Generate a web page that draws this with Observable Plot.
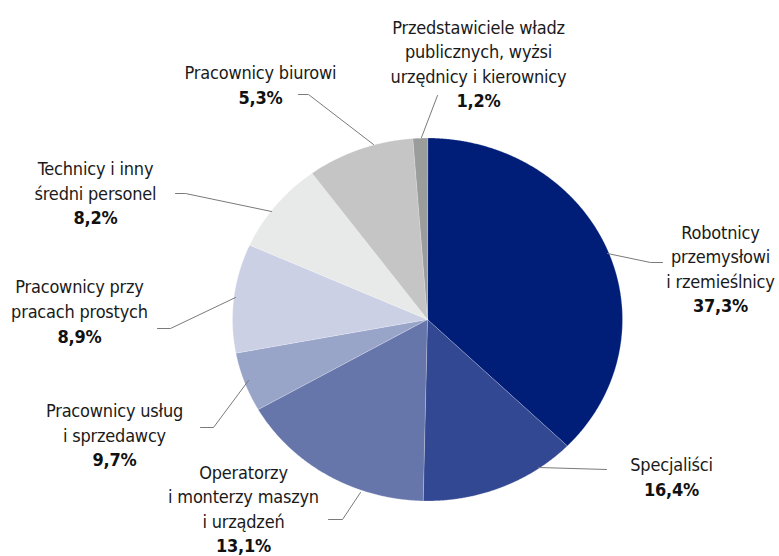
<!DOCTYPE html>
<html><head><meta charset="utf-8">
<script src="https://cdn.jsdelivr.net/npm/d3@7"></script>
<script src="https://cdn.jsdelivr.net/npm/@observablehq/plot@0.6"></script>
<style>html,body{margin:0;padding:0;background:#fff}</style>
</head><body><div id="chart"></div>
<script>
// Labels as printed, in clockwise order from 12 o'clock
const categories = [
  "Robotnicy\nprzemysłowi\ni rzemieślnicy",
  "Specjaliści",
  "Operatorzy\ni monterzy maszyn\ni urządzeń",
  "Pracownicy usług\ni sprzedawcy",
  "Pracownicy przy\npracach prostych",
  "Technicy i inny\nśredni personel",
  "Pracownicy biurowi",
  "Przedstawiciele władz\npublicznych, wyżsi\nurzędnicy i kierownicy"
];
// Percentages printed next to each label
const labelShares = [37.3, 16.4, 13.1, 9.7, 8.9, 8.2, 5.3, 1.2];
// Wedge sizes as drawn in the picture (same order, clockwise)
const wedgeShares = [37.3, 13.1, 16.4, 5.3, 9.7, 8.2, 8.9, 1.2];
const wedgeColors = ["#001e78", "#334892", "#6676ab", "#99a4c9", "#cbd0e5", "#e8e9e9", "#c5c5c5", "#9b9d9d"];

// ---- layout (pixels) ----
const W = 779, H = 556;
const CX = 427, CY = 319, RX = 195, RY = 181.5;
const FS = 18, LH = 1.36;
const ux = px => (px - CX) / RX;
const uy = py => (CY - py) / RY;
// text centre x, baseline of last name line, baseline of percent line
const labelX = [720, 671, 243, 114, 79, 95, 260, 478];
const nameBase = [287, 470, 527, 441, 317, 199, 78, 82];
const pctBase = [311, 495, 551, 465, 342, 223, 103, 106];
// leader lines: from pie rim to label
const leaders = [
  [[607, 253], [650, 262], [662, 262]],
  [[538, 467], [606, 469]],
  [[360, 492], [342, 519], [328, 519]],
  [[248, 380], [213, 427], [200, 427]],
  [[235, 297], [170, 328], [157, 328]],
  [[271, 211], [185, 193], [175, 193]],
  [[373, 144], [308, 94], [298, 94]],
  [[421, 137], [437, 95]]
];

// ---- wedges ----
const arcs = d3.pie().sort(null).startAngle(0).endAngle(2 * Math.PI)(wedgeShares);
const wedgePts = [];
arcs.forEach((a, i) => {
  wedgePts.push({slice: i, x: 0, y: 0});
  const n = Math.max(2, Math.ceil((a.endAngle - a.startAngle) / 0.005));
  for (let k = 0; k <= n; k++) {
    const t = a.startAngle + (a.endAngle - a.startAngle) * k / n;
    wedgePts.push({slice: i, x: Math.sin(t), y: Math.cos(t)});
  }
});

const leaderPts = leaders.flatMap((pts, i) => pts.map(([px, py]) => ({id: i, x: ux(px), y: uy(py)})));
const fmt = v => v.toFixed(1).replace(".", ",") + "%";
const labels = categories.map((name, i) => ({
  name, pct: fmt(labelShares[i]),
  x: ux(labelX[i]), yName: uy(nameBase[i]), yPct: uy(pctBase[i])
}));

const font = "'Liberation Sans Narrow', 'DejaVu Sans Condensed', 'Arial Narrow', sans-serif";
const chart = Plot.plot({
  width: W, height: H,
  margin: 0,
  x: {domain: [-1, 1], range: [CX - RX, CX + RX], axis: null},
  y: {domain: [-1, 1], range: [CY + RY, CY - RY], axis: null},
  color: {type: "identity"},
  style: {fontFamily: font, fontSize: FS + "px", background: "#fff", letterSpacing: "-0.2px"},
  marks: [
    Plot.line(wedgePts, {x: "x", y: "y", z: "slice", fill: d => wedgeColors[d.slice], stroke: "#ffffff", strokeWidth: 0.4, strokeOpacity: 0.6, curve: "linear-closed"}),
    Plot.line(leaderPts, {x: "x", y: "y", z: "id", stroke: "#7a7a7a", strokeWidth: 1}),
    Plot.text(labels, {x: "x", y: "yName", text: "name", lineAnchor: "bottom", lineHeight: LH, fontSize: FS, fill: "#1a1a1a", textAnchor: "middle"}),
    Plot.text(labels, {x: "x", y: "yPct", text: "pct", lineAnchor: "bottom", fontSize: FS, fontWeight: "bold", fill: "#111", textAnchor: "middle"})
  ]
});
document.getElementById("chart").appendChild(chart);
</script>
</body></html>
